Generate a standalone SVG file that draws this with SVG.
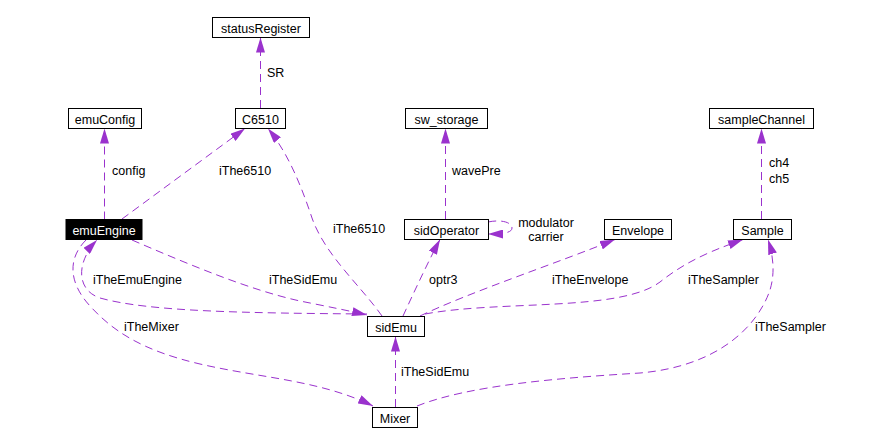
<svg xmlns="http://www.w3.org/2000/svg" width="873" height="444" viewBox="0 0 873 444">
<style>
.n rect{fill:#fff;stroke:#000;stroke-width:1}
.n text{font-family:"Liberation Sans",Arial,sans-serif;font-size:12.5px;text-anchor:middle;fill:#000}
#emuEngine rect{fill:#000}
#emuEngine text{fill:#fff}
.e path{fill:none;stroke:#9a32cd;stroke-width:1;stroke-dasharray:8,5;marker-end:url(#ah)}
.l{font-family:"Liberation Sans",Arial,sans-serif;font-size:12.5px;fill:#000}
</style>
<defs>
<marker id="ah" markerUnits="userSpaceOnUse" viewBox="0 0 15 9" refX="15" refY="4.5" markerWidth="15" markerHeight="9" orient="auto">
<path d="M0,0 L15,4.5 L0,9 Z" fill="#9a32cd" stroke="none"/>
</marker>
</defs>
<rect width="873" height="444" fill="#fff"/>
<g id="connectors" class="e">
<path d="M260.5,108 L260.5,37.5"/>
<path d="M104.5,219.5 L104.5,128.5"/>
<path d="M122,219 L245,128.5"/>
<path d="M382,316 C360,285 325,255 312,218 C300,182 287,152 268,128.5"/>
<path d="M403,316 C415,290 428,262 440,239.5"/>
<path d="M445.5,219 L445.5,128.5"/>
<path d="M488,222 C503,219 512,223 512,228 C512,233 502,234 488,234"/>
<path d="M761.5,219 L761.5,128.5"/>
<path d="M420,316 C470,292 560,262 615,239.5"/>
<path d="M425,314 C500,300 620,312 660,282 C690,258 720,248 743,239.5"/>
<path d="M417,406 C470,385 560,378 640,373 C720,366 758,325 770,290 C776,270 772,252 768,239.5"/>
<path d="M395.5,407 L395.5,336.5"/>
<path d="M132,240 C190,265 250,290 300,301 C330,307 350,311 367,315"/>
<path d="M367,314 C250,313 150,312 100,298 C76,290 76,262 97,240"/>
<path d="M86,240 C68,258 68,282 90,306 C112,330 140,350 200,364 C260,378 320,380 373,406"/>
</g>
<g id="labels">
<text class="l" x="267" y="77">SR</text>
<text class="l" x="112" y="175">config</text>
<text class="l" x="219" y="175">iThe6510</text>
<text class="l" x="333" y="233">iThe6510</text>
<text class="l" x="452" y="175">wavePre</text>
<text class="l" x="769" y="167">ch4</text>
<text class="l" x="769" y="183">ch5</text>
<text class="l" x="546" y="227" text-anchor="middle">modulator</text>
<text class="l" x="546" y="241" text-anchor="middle">carrier</text>
<text class="l" x="93" y="284">iTheEmuEngine</text>
<text class="l" x="269" y="284">iTheSidEmu</text>
<text class="l" x="124" y="331">iTheMixer</text>
<text class="l" x="429" y="284">optr3</text>
<text class="l" x="552" y="284">iTheEnvelope</text>
<text class="l" x="688" y="284">iTheSampler</text>
<text class="l" x="755" y="331">iTheSampler</text>
<text class="l" x="401" y="376">iTheSidEmu</text>
</g>
<g id="statusRegister" class="n"><rect x="212.5" y="17.5" width="97" height="20"/><text x="261" y="33">statusRegister</text></g>
<g id="emuConfig" class="n"><rect x="68.5" y="108.5" width="73" height="20"/><text x="105" y="124">emuConfig</text></g>
<g id="C6510" class="n"><rect x="235.5" y="108.5" width="50" height="20"/><text x="260.5" y="124">C6510</text></g>
<g id="sw_storage" class="n"><rect x="405.5" y="108.5" width="82" height="20"/><text x="446.5" y="124">sw_storage</text></g>
<g id="sampleChannel" class="n"><rect x="709.5" y="108.5" width="104" height="20"/><text x="761.5" y="124">sampleChannel</text></g>
<g id="emuEngine" class="n"><rect x="66" y="219.5" width="76" height="20"/><text x="104" y="235">emuEngine</text></g>
<g id="sidOperator" class="n"><rect x="404.5" y="219.5" width="84" height="20"/><text x="446.5" y="235">sidOperator</text></g>
<g id="Envelope" class="n"><rect x="604.5" y="219.5" width="67" height="20"/><text x="638" y="235">Envelope</text></g>
<g id="Sample" class="n"><rect x="733.5" y="219.5" width="58" height="20"/><text x="762.5" y="235">Sample</text></g>
<g id="sidEmu" class="n"><rect x="367.5" y="316.5" width="57" height="20"/><text x="396" y="332">sidEmu</text></g>
<g id="Mixer" class="n"><rect x="372.5" y="407.5" width="45" height="20"/><text x="395" y="423">Mixer</text></g>
</svg>
